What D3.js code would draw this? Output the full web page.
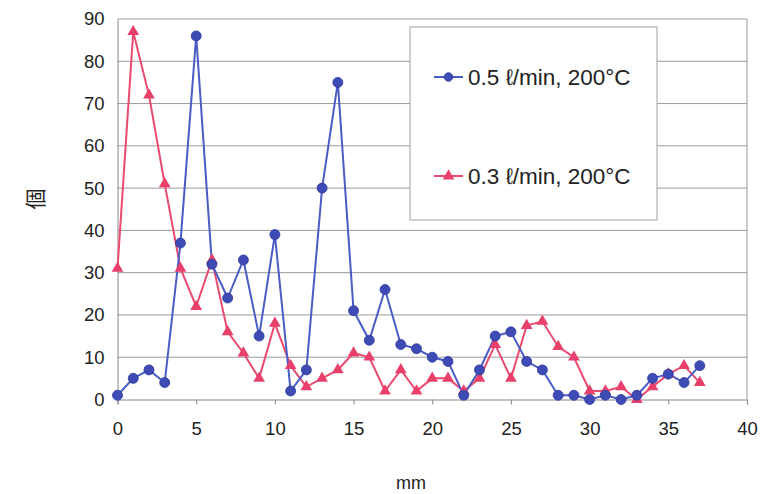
<!DOCTYPE html>
<html><head><meta charset="utf-8">
<script src="https://cdn.jsdelivr.net/npm/d3@7"></script>
<style>body{margin:0;background:#fff}svg{display:block}text{font-family:"Liberation Sans",Arial,sans-serif;fill:#222}</style>
</head><body><svg id="c" width="762" height="494"></svg>
<script>
const xValues = d3.range(0, 38);
const seriesNames = ["0.5 ℓ/min, 200°C", "0.3 ℓ/min, 200°C"];
const blueValues = [1,5,7,4,37,86,32,24,33,15,39,2,7,50,75,21,14,26,13,12,10,9,1,7,15,16,9,7,1,1,0,1,0,1,5,6,4,8];
const redValues = [31,87,72,51,31,22,33,16,11,5,18,8,3,5,7,11,10,2,7,2,5,5,2,5,13,5,17.5,18.5,12.5,10,2,2,3,0,3,6,8,4];
const xTicks = [0,5,10,15,20,25,30,35,40];
const yTicks = [0,10,20,30,40,50,60,70,80,90];

const svg = d3.select("#c");
const x = d3.scaleLinear().domain([0,40]).range([117.5,747]);
const y = d3.scaleLinear().domain([0,90]).range([399.5,19]);

// gridlines
svg.append("g").selectAll("line").data(yTicks.filter(d=>d>0)).join("line")
  .attr("x1",x(0)).attr("x2",x(40)).attr("y1",d=>y(d)).attr("y2",d=>y(d))
  .attr("stroke","#9a9a9a").attr("stroke-width",1);
// right border
svg.append("line").attr("x1",x(40)).attr("x2",x(40)).attr("y1",y(90)).attr("y2",y(0)).attr("stroke","#9a9a9a");

// x axis
const xa = svg.append("g").attr("transform",`translate(0,${y(0)})`)
  .call(d3.axisBottom(x).tickValues(xTicks).tickSize(5).tickPadding(17).tickFormat(d3.format("d")));
xa.select(".domain").attr("stroke","#888");
xa.selectAll(".tick line").attr("stroke","#888");
xa.selectAll("text").attr("font-size",18.5).attr("fill","#222");
// y axis
const ya = svg.append("g").attr("transform",`translate(${x(0)},0)`)
  .call(d3.axisLeft(y).tickValues(yTicks).tickSize(0).tickPadding(13).tickFormat(d3.format("d")));
ya.select(".domain").attr("stroke","#888");
ya.selectAll("text").attr("font-size",18.5).attr("fill","#222");

// axis titles
svg.append("text").attr("x",411).attr("y",489).attr("text-anchor","middle").attr("font-size",18).text("mm");
svg.append("text").attr("transform","translate(34,199) rotate(-90)").attr("text-anchor","middle")
  .attr("dominant-baseline","central").attr("font-size",21)
  .style("font-family","'Noto Sans CJK JP',sans-serif").text("個");

const blueLine="#4a5cc6", blueFill="#3e4bb5", blueStroke="#2f3a9e";
const redLine="#ea4a70", redFill="#e8406a";
const line = d3.line().x((d,i)=>x(xValues[i])).y(d=>y(d));

svg.append("path").datum(redValues).attr("d",line).attr("fill","none").attr("stroke",redLine).attr("stroke-width",2);
svg.append("path").datum(blueValues).attr("d",line).attr("fill","none").attr("stroke",blueLine).attr("stroke-width",2);

const tri = d3.symbol().type(d3.symbolTriangle).size(60);
svg.append("g").selectAll("path").data(redValues).join("path")
  .attr("d",tri).attr("transform",(d,i)=>`translate(${x(xValues[i])},${y(d)})`).attr("fill",redFill);
svg.append("g").selectAll("circle").data(blueValues).join("circle")
  .attr("cx",(d,i)=>x(xValues[i])).attr("cy",d=>y(d)).attr("r",5)
  .attr("fill",blueFill).attr("stroke",blueStroke).attr("stroke-width",0.8);

// legend
svg.append("rect").attr("x",410).attr("y",27).attr("width",247).attr("height",193)
  .attr("fill","#fff").attr("stroke","#a0a0a0");
const leg=[{name:seriesNames[0],y:77,c:blueLine,m:"c"},{name:seriesNames[1],y:176,c:redLine,m:"t"}];
leg.forEach(l=>{
  svg.append("line").attr("x1",434).attr("x2",463).attr("y1",l.y).attr("y2",l.y).attr("stroke",l.c).attr("stroke-width",2);
  if(l.m==="c") svg.append("circle").attr("cx",448.5).attr("cy",l.y).attr("r",4.3).attr("fill",blueFill).attr("stroke",blueStroke).attr("stroke-width",0.8);
  else svg.append("path").attr("d",tri).attr("transform",`translate(448.5,${l.y})`).attr("fill",redFill);
  svg.append("text").attr("x",468).attr("y",l.y).attr("dy","0.35em").attr("font-size",22.5).text(l.name);
});
</script></body></html>
